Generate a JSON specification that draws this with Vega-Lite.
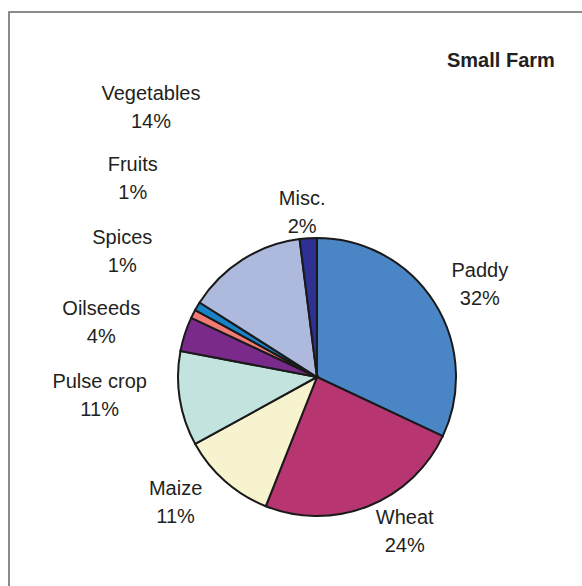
{
  "$schema": "https://vega.github.io/schema/vega-lite/v6.json",
  "width": 616,
  "height": 730,
  "padding": {"left": 9, "top": 12, "right": 0, "bottom": 0},
  "autosize": {"type": "pad"},
  "background": "white",
  "view": {"stroke": "#666666", "strokeWidth": 1.5, "fill": "white"},
  "title": {
    "text": "Small Farm",
    "anchor": "start",
    "frame": "group",
    "orient": "top",
    "dx": 438,
    "offset": -75,
    "baseline": "alphabetic",
    "font": "Liberation Sans",
    "fontSize": 20,
    "fontWeight": "bold",
    "color": "#231f20"
  },
  "config": {
    "view": {"stroke": "#666666", "strokeWidth": 1.5},
    "text": {
      "font": "Liberation Sans",
      "fontSize": 20,
      "lineHeight": 28,
      "align": "center",
      "baseline": "top",
      "color": "#231f20",
      "lineBreak": "\n"
    }
  },
  "data": {
    "values": [
      {"crop": "Paddy", "pct": 32},
      {"crop": "Wheat", "pct": 24},
      {"crop": "Maize", "pct": 11},
      {"crop": "Pulse crop", "pct": 11},
      {"crop": "Oilseeds", "pct": 4},
      {"crop": "Spices", "pct": 1},
      {"crop": "Fruits", "pct": 1},
      {"crop": "Vegetables", "pct": 14},
      {"crop": "Misc.", "pct": 2}
    ]
  },
  "transform": [
    {"window": [{"op": "row_number", "as": "i"}]},
    {"stack": "pct", "groupby": [], "sort": [{"field": "i", "order": "ascending"}], "as": ["t0", "t1"]},
    {"calculate": "(datum.t0 + datum.t1) / 2", "as": "mid"},
    {"calculate": "datum.crop + '\\n' + datum.pct + '%'", "as": "label"}
  ],
  "layer": [
    {
      "mark": {"type": "arc", "radius": 139, "stroke": "#1a1a1a", "strokeWidth": 2},
      "encoding": {
        "theta": {"field": "t0", "type": "quantitative", "stack": null, "scale": {"domain": [0, 100]}},
        "theta2": {"field": "t1"},
        "color": {
          "field": "crop",
          "type": "nominal",
          "legend": null,
          "scale": {
            "domain": ["Paddy", "Wheat", "Maize", "Pulse crop", "Oilseeds", "Spices", "Fruits", "Vegetables", "Misc."],
            "range": ["#4a86c6", "#b73672", "#f8f3cf", "#c3e3df", "#7a2a8b", "#f37b75", "#1a82c8", "#adb9dd", "#2e3192"]
          }
        }
      }
    },
    {
      "transform": [{"filter": "datum.crop === 'Paddy'"}],
      "mark": {"type": "text", "radius": 200, "dx": -6, "dy": -9},
      "encoding": {"theta": {"field": "mid", "type": "quantitative", "stack": null, "scale": {"domain": [0, 100]}}, "text": {"field": "label"}}
    },
    {
      "transform": [{"filter": "datum.crop === 'Wheat'"}],
      "mark": {"type": "text", "radius": 154, "dx": 31, "dy": -12},
      "encoding": {"theta": {"field": "mid", "type": "quantitative", "stack": null, "scale": {"domain": [0, 100]}}, "text": {"field": "label"}}
    },
    {
      "transform": [{"filter": "datum.crop === 'Maize'"}],
      "mark": {"type": "text", "radius": 170, "dx": -29, "dy": -26},
      "encoding": {"theta": {"field": "mid", "type": "quantitative", "stack": null, "scale": {"domain": [0, 100]}}, "text": {"field": "label"}}
    },
    {
      "transform": [{"filter": "datum.crop === 'Pulse crop'"}],
      "mark": {"type": "text", "radius": 214, "dx": -6, "dy": -38},
      "encoding": {"theta": {"field": "mid", "type": "quantitative", "stack": null, "scale": {"domain": [0, 100]}}, "text": {"field": "label"}}
    },
    {
      "transform": [{"filter": "datum.crop === 'Oilseeds'"}],
      "mark": {"type": "text", "radius": 230, "dx": 3, "dy": -7},
      "encoding": {"theta": {"field": "mid", "type": "quantitative", "stack": null, "scale": {"domain": [0, 100]}}, "text": {"field": "label"}}
    },
    {
      "transform": [{"filter": "datum.crop === 'Spices'"}],
      "mark": {"type": "text", "radius": 241, "dx": 20, "dy": -40},
      "encoding": {"theta": {"field": "mid", "type": "quantitative", "stack": null, "scale": {"domain": [0, 100]}}, "text": {"field": "label"}}
    },
    {
      "transform": [{"filter": "datum.crop === 'Fruits'"}],
      "mark": {"type": "text", "radius": 271, "dx": 49, "dy": -84},
      "encoding": {"theta": {"field": "mid", "type": "quantitative", "stack": null, "scale": {"domain": [0, 100]}}, "text": {"field": "label"}}
    },
    {
      "transform": [{"filter": "datum.crop === 'Vegetables'"}],
      "mark": {"type": "text", "radius": 336, "dx": 14, "dy": -9},
      "encoding": {"theta": {"field": "mid", "type": "quantitative", "stack": null, "scale": {"domain": [0, 100]}}, "text": {"field": "label"}}
    },
    {
      "transform": [{"filter": "datum.crop === 'Misc.'"}],
      "mark": {"type": "text", "radius": 188, "dx": -3, "dy": 0},
      "encoding": {"theta": {"field": "mid", "type": "quantitative", "stack": null, "scale": {"domain": [0, 100]}}, "text": {"field": "label"}}
    }
  ]
}
